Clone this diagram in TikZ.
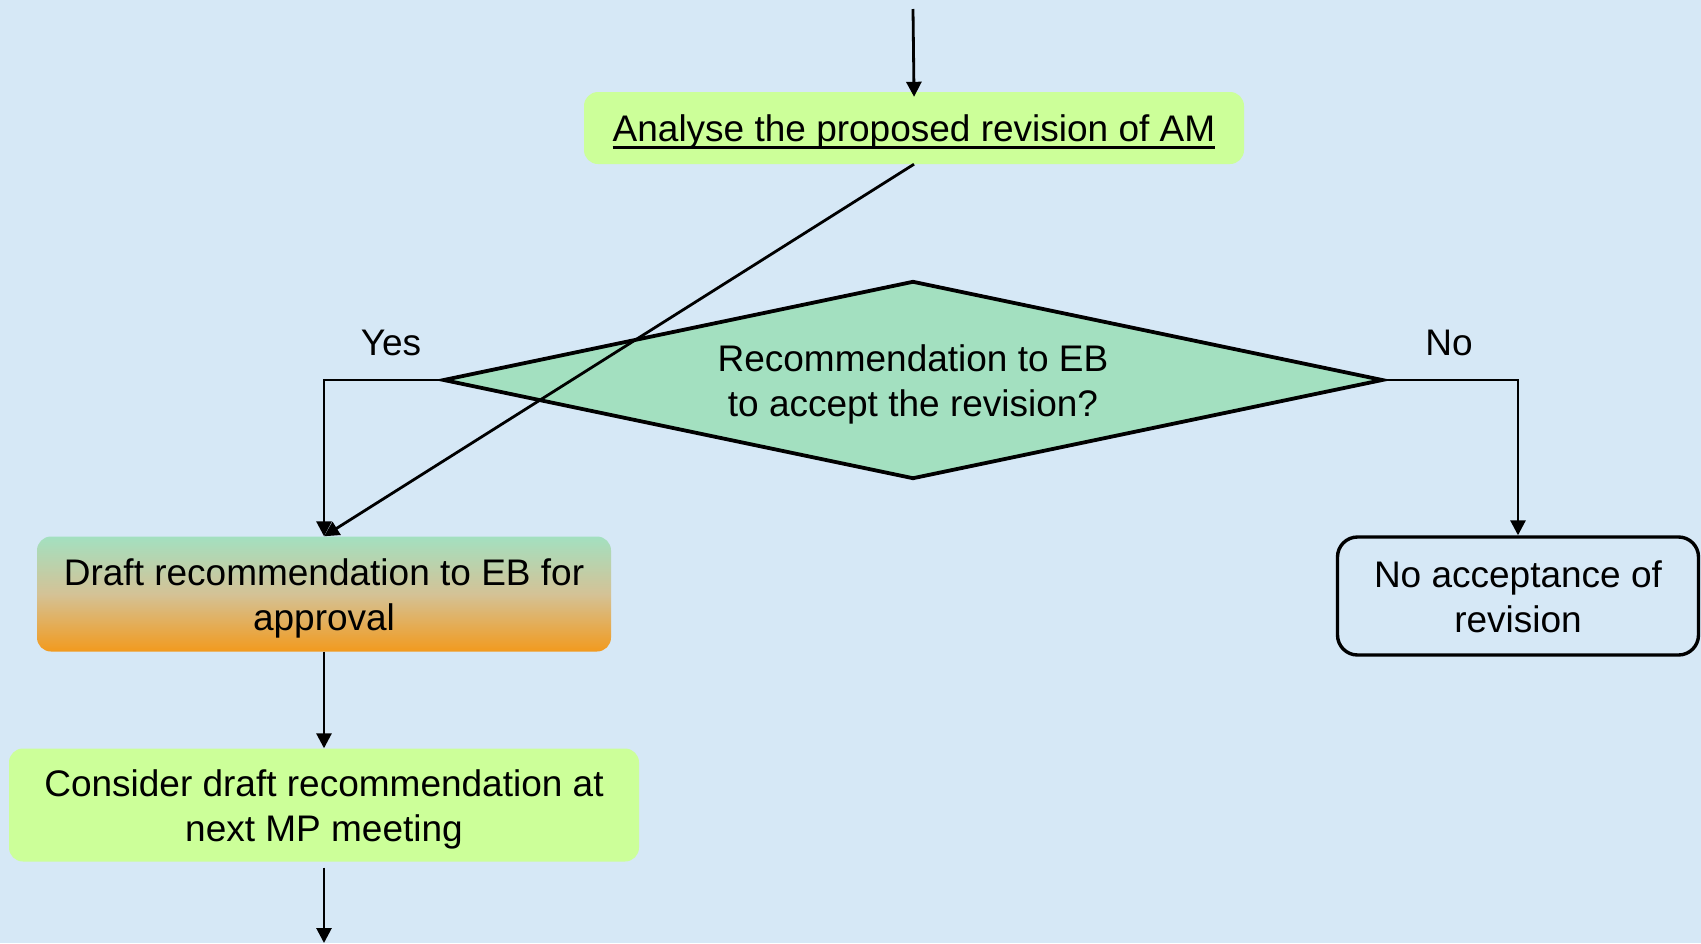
\documentclass[tikz,border=0pt]{standalone}
\usepackage{fontspec}
\setmainfont{Liberation Sans}
\usetikzlibrary{shapes.geometric,arrows.meta}
\definecolor{bg}{RGB}{214,232,246}
\definecolor{lgreen}{RGB}{204,255,153}
\definecolor{mint}{RGB}{163,224,192}
\definecolor{orng}{RGB}{242,154,30}
\definecolor{tanmid}{RGB}{212,194,150}
\newcommand\myul[1]{\setbox0\hbox{#1}\rlap{\rule[-7pt]{\wd0}{3pt}}\box0}
\newcommand\Tx[1]{\raisebox{-4.5pt}[\height][\depth]{\begin{tabular}{@{}c@{}}#1\end{tabular}}}
\begin{document}
\begin{tikzpicture}[x=1pt,y=-1pt,
  every node/.style={font=\fontsize{37}{45}\selectfont, inner sep=0pt},
  greenbox/.style={fill=lgreen, rounded corners=14pt},
  gradbox/.style={top color=mint, bottom color=orng, middle color=tanmid, rounded corners=14pt},
  endbox/.style={draw, line width=3.4pt, rounded corners=20pt},
  decision/.style={diamond, draw, line width=3.8pt, fill=mint, aspect=4.69, minimum width=940pt, minimum height=198pt},
  conn/.style={line width=2.8pt, -{Triangle[length=15pt,width=15pt]}},
  lbl/.style={}]
\fill[bg] (0,0) rectangle (1701,943);
\useasboundingbox (0,0) rectangle (1701,943);

\coordinate (top) at (913,9);
\coordinate (bottom) at (324,943);

\node[greenbox, minimum width=660pt, minimum height=72pt] (analyse) at (914,128) {\Tx{\myul{Analyse the proposed revision of AM}}};
\node[decision] (dec) at (913,380) {\Tx{Recommendation to EB\\to accept the revision?}};
\node[gradbox, minimum width=574pt, minimum height=115pt] (draft) at (324,594) {\Tx{Draft recommendation to EB for\\approval}};
\node[greenbox, minimum width=630pt, minimum height=113pt] (consider) at (324,805) {\Tx{Consider draft recommendation at\\next MP meeting}};
\node[endbox, minimum width=361pt, minimum height=118pt] (noacc) at (1518,596) {\Tx{No acceptance of\\revision}};

\node[lbl] (yes) at (391,343) {Yes};
\node[lbl] (no) at (1449,343) {No};

\draw[conn, shorten >=-5pt] (top) -- (analyse.north);
\draw[conn] (analyse.south) -- (draft.north);
\draw[conn] (dec.west) -| (draft.north);
\draw[conn] (dec.east) -| (noacc.north);
\draw[conn] (draft.south) -- (consider.north);
\draw[conn, shorten <=6pt] (consider.south) -- (bottom);
\end{tikzpicture}
\end{document}
